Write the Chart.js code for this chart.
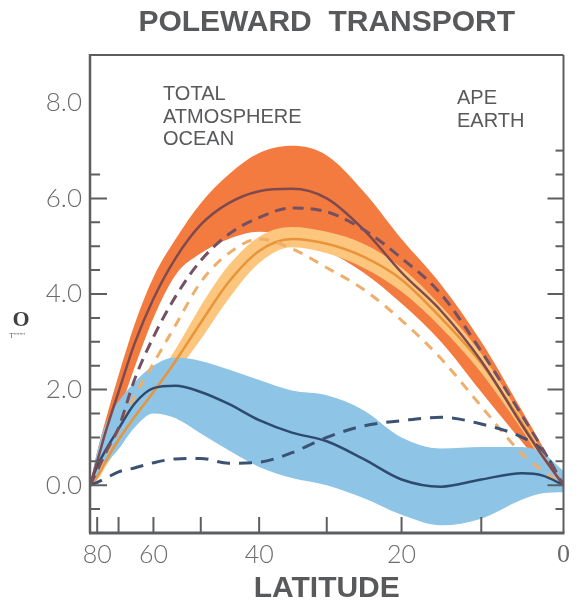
<!DOCTYPE html>
<html><head><meta charset="utf-8">
<script src="https://cdn.jsdelivr.net/npm/chart.js@4.4.0/dist/chart.umd.min.js"></script>
<style>html,body{margin:0;padding:0;background:#fff;}canvas{display:block}</style>
</head><body>
<canvas id="c" width="577" height="604" style="width:577px;height:604px"></canvas>
<script>
// ---- data (latitude in degrees, transport values) ----
const latitudes   = [90, 80, 75, 70, 65, 60, 55, 50, 45, 40, 35, 30, 25, 20, 15, 10, 5, 2.5, 0];
// TOTAL (APE) spread band and mean, TOTAL (EARTH)
const totalApeHi  = [0, 0.7, 1.4, 2.3, 3.35, 4.35, 5.15, 5.9, 6.5, 6.95, 7.1, 6.9, 6.15, 5.15, 4.2, 3.0, 1.55, 0.8, 0];
const totalApeLo  = [0, 0.35, 0.85, 1.5, 2.45, 3.5, 4.4, 4.85, 5.15, 5.3, 5.2, 4.9, 4.45, 3.8, 3.0, 1.95, 0.9, 0.4, 0];
const totalApe    = [0, 0.5, 1.15, 1.95, 2.95, 3.9, 4.75, 5.45, 5.9, 6.15, 6.2, 6.0, 5.35, 4.45, 3.65, 2.6, 1.25, 0.6, 0];
const totalEarth  = [0, 0.3, 0.7, 1.2, 2.2, 3.1, 3.95, 4.7, 5.25, 5.6, 5.8, 5.72, 5.35, 4.75, 4.0, 2.8, 1.45, 0.75, 0];
// ATMOSPHERE
const atmApeHi    = [0, 0.25, 0.65, 1.1, 1.6, 2.15, 2.85, 3.75, 4.6, 5.2, 5.4, 5.3, 5.05, 4.55, 3.75, 2.75, 1.4, 0.7, 0];
const atmApeLo    = [0, 0.1, 0.4, 0.8, 1.25, 1.75, 2.35, 3.05, 3.9, 4.65, 4.98, 4.85, 4.55, 4.05, 3.3, 2.35, 1.15, 0.5, 0];
const atmApe      = [0, 0.18, 0.52, 0.95, 1.42, 1.95, 2.6, 3.4, 4.25, 4.9, 5.15, 5.05, 4.78, 4.3, 3.5, 2.55, 1.3, 0.6, 0];
const atmEarth    = [0, 0.25, 0.65, 1.15, 1.85, 2.55, 3.35, 4.25, 4.85, 5.15, 4.95, 4.55, 4.1, 3.45, 2.65, 1.65, 0.65, 0.3, 0];
// OCEAN
const oceanApeHi  = [0, 0.7, 1.3, 1.75, 2.15, 2.5, 2.67, 2.6, 2.42, 2.2, 1.98, 1.88, 1.57, 1.0, 0.77, 0.8, 0.8, 0.67, 0.3];
const oceanApeLo  = [0, 0.15, 0.45, 0.75, 1.2, 1.5, 1.4, 1.08, 0.73, 0.38, 0.15, 0.0, -0.27, -0.62, -0.84, -0.7, -0.3, -0.17, -0.15];
const oceanApe    = [0, 0.4, 0.75, 1.18, 1.7, 2.03, 2.08, 1.95, 1.7, 1.36, 1.1, 0.92, 0.55, 0.12, -0.03, 0.12, 0.25, 0.2, 0];
const oceanEarth  = [0, 0.06, 0.15, 0.28, 0.36, 0.47, 0.55, 0.56, 0.46, 0.48, 0.68, 1.0, 1.24, 1.35, 1.42, 1.28, 1.0, 0.72, 0];
// axes
const xTickLats   = [80, 70, 60, 50, 40, 30, 20, 10, 0];
const xTickLabels = ['80', '60', '40', '20', '0'];
const yTickValues = [0, 2, 4, 6, 8];
const titleText   = 'POLEWARD  TRANSPORT';
const xTitleText  = 'LATITUDE';
const legendLeft  = ['TOTAL', 'ATMOSPHERE', 'OCEAN'];
const legendRight = ['APE', 'EARTH'];

const rad = d => d * Math.PI / 180;
const pts = vals => latitudes.map((lat, i) => ({x: Math.sin(rad(lat)), y: vals[i]}));

const TXT = '#58595b';
const common = {pointRadius: 0, pointHoverRadius: 0, cubicInterpolationMode: 'monotone'};
const band = (vals, color, order, fill) => Object.assign({}, common, {
  data: pts(vals), order, fill, backgroundColor: color, borderWidth: 0, borderColor: 'rgba(0,0,0,0)'
});
const line = (vals, color, width, dash, order) => Object.assign({}, common, {
  data: pts(vals), order, fill: false, borderColor: color, borderWidth: width, borderDash: dash,
  borderCapStyle: 'butt'
});

const frameTicks = {
  id: 'frameTicks',
  afterDatasetsDraw(chart) {
    const {ctx, chartArea: a, scales: {x, y}} = chart;
    ctx.save();
    ctx.strokeStyle = '#5d5e60';
    ctx.lineCap = 'butt';
    ctx.lineWidth = 2;
    ctx.beginPath();
    ctx.moveTo(a.left, a.top); ctx.lineTo(a.right, a.top);
    ctx.moveTo(a.right, a.top); ctx.lineTo(a.right, a.bottom);
    ctx.stroke();
    ctx.lineWidth = 2.5;
    ctx.beginPath();
    ctx.moveTo(a.left, a.top - 1); ctx.lineTo(a.left, a.bottom);
    ctx.stroke();
    ctx.lineWidth = 3;
    ctx.beginPath();
    ctx.moveTo(a.left - 1, a.bottom); ctx.lineTo(a.right + 1, a.bottom);
    ctx.stroke();
    ctx.lineWidth = 2;
    for (let k = -1; k <= 14; k++) {
      const v = k / 2;
      const py = y.getPixelForValue(v);
      const major = k % 4 === 0;
      ctx.beginPath();
      if (v <= 6.5) { ctx.moveTo(a.left, py); ctx.lineTo(a.left + (major ? 17 : 10), py); }
      ctx.moveTo(a.right, py); ctx.lineTo(a.right - (major ? 16 : 8), py);
      ctx.stroke();
    }
    xTickLats.forEach(lat => {
      if (lat === 0) return;
      const px = x.getPixelForValue(Math.sin(rad(lat)));
      ctx.beginPath(); ctx.moveTo(px, a.bottom); ctx.lineTo(px, a.bottom - 16); ctx.stroke();
    });
    ctx.restore();
  },
  afterDraw(chart) {
    const {ctx, chartArea: a} = chart;
    ctx.save();
    ctx.fillStyle = TXT;
    ctx.textBaseline = 'alphabetic';
    ctx.textAlign = 'center';
    ctx.font = 'bold 30px "Liberation Sans", Arial, sans-serif';
    ctx.fillText(titleText, (a.left + a.right) / 2, 31);
    ctx.textAlign = 'left';
    ctx.font = '20px "Liberation Sans", Arial, sans-serif';
    legendLeft.forEach((t, i) => ctx.fillText(t, 163, 100 + i * 22.5));
    legendRight.forEach((t, i) => ctx.fillText(t, 457, 104 + i * 22.5));
    ctx.textAlign = 'center';
    ctx.fillStyle = '#3f4042';
    ctx.font = 'bold 22px "Liberation Serif", serif';
    ctx.fillText('O', 21, 326);
    ctx.font = '8px "Liberation Sans", sans-serif';
    ctx.fillStyle = '#6a6b6d';
    ctx.fillText('T""""', 17, 338);
    ctx.restore();
  }
};

new Chart(document.getElementById('c'), {
  type: 'line',
  data: {
    datasets: [
      band(totalApeLo, 'rgba(0,0,0,0)', 10, false),
      band(totalApeHi, '#f47b3f', 10, '-1'),
      band(atmApeLo, 'rgba(0,0,0,0)', 9, false),
      band(atmApeHi, '#fdc67e', 9, '-1'),
      band(oceanApeLo, 'rgba(0,0,0,0)', 8, false),
      band(oceanApeHi, '#8ec5e7', 8, '-1'),
      line(oceanEarth, '#3b5273', 3, [13, 9], 1),
      line(oceanApe, '#2e4a6f', 2.5, [], 1),
      line(atmEarth, '#efaf6c', 3, [10, 8], 1),
      line(atmApe, '#e8943a', 2.5, [], 1),
      line(totalEarth, '#735162', 3, [11, 7], 0),
      line(totalApe, '#7e4a4d', 2.5, [], 0)
    ]
  },
  options: {
    responsive: false,
    animation: false,
    devicePixelRatio: 1,
    layout: {padding: {top: 55, right: 9, left: 0, bottom: 0}},
    plugins: {legend: {display: false}, tooltip: {enabled: false}, title: {display: false}},
    scales: {
      x: {
        type: 'linear', min: 0, max: 1, reverse: true,
        afterFit: s => { s.height = 71; },
        afterBuildTicks: s => { s.ticks = xTickLats.map(l => ({value: Math.sin(rad(l))})); },
        grid: {display: false, drawTicks: false},
        border: {display: false},
        ticks: {
          autoSkip: false, maxRotation: 0, padding: 7, color: '#6a6b6d',
          font: c => (c.tick && c.tick.value === 0)
            ? {family: '"Liberation Serif", serif', size: 26}
            : {family: 'Lato, "Liberation Sans", sans-serif', size: 25, weight: 300},
          callback: v => {
            const lat = String(Math.round(Math.asin(Math.min(1, v)) * 180 / Math.PI));
            return xTickLabels.includes(lat) ? lat : '';
          }
        },
        title: {display: true, text: xTitleText, color: TXT,
          font: {family: '"Liberation Sans", Arial, sans-serif', size: 30, weight: 'bold', lineHeight: 1},
          padding: {top: 0, bottom: 0}}
      },
      y: {
        type: 'linear', min: -1, max: 9,
        afterFit: s => { s.width = 90; },
        afterBuildTicks: s => { s.ticks = yTickValues.map(v => ({value: v})); },
        grid: {display: false, drawTicks: false},
        border: {display: false},
        ticks: {
          padding: 8, color: '#6a6b6d',
          font: {family: 'Lato, "Liberation Sans", sans-serif', size: 26, weight: 300},
          callback: v => v.toFixed(1)
        }
      }
    }
  },
  plugins: [frameTicks]
});
</script>
</body></html>
